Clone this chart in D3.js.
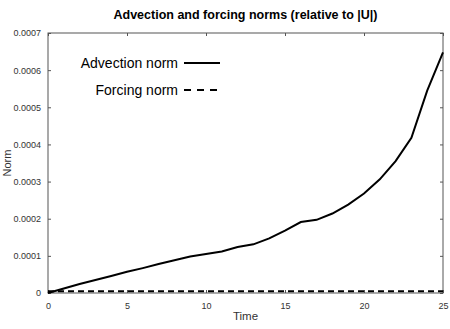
<!DOCTYPE html>
<html>
<head>
<meta charset="utf-8">
<script src="https://cdn.jsdelivr.net/npm/d3@7"></script>
<style>
  body { margin: 0; background: #fff; }
  svg { font-family: "Liberation Sans", Arial, sans-serif; }
</style>
</head>
<body>
<svg width="450" height="329"></svg>
<script>
const svg = d3.select("svg");

// data
const time = d3.range(0, 26);
const advection = [0, 0.000012, 0.000024, 0.000035, 0.000046, 0.000057, 0.000067, 0.000078,
  0.000088, 0.000098, 0.000105, 0.000112, 0.000124, 0.000131, 0.000147, 0.000168,
  0.000191, 0.000197, 0.000214, 0.000238, 0.000268, 0.000306, 0.000355, 0.000418,
  0.000545, 0.000648];
const forcing = time.map(() => 0.000005);
const xTicks = [0, 5, 10, 15, 20, 25];
const yTicks = [0, 0.0001, 0.0002, 0.0003, 0.0004, 0.0005, 0.0006, 0.0007];
const seriesNames = ["Advection norm", "Forcing norm"];

const margin = { left: 48, right: 7, top: 33, bottom: 36 };
const width = +svg.attr("width");
const height = +svg.attr("height");

const x = d3.scaleLinear().domain([0, 25]).range([margin.left, width - margin.right]);
const y = d3.scaleLinear().domain([0, 0.0007]).range([height - margin.bottom, margin.top]);

const axisColor = "#555";
const tickFmt = d => d === 0 ? "0" : d3.format(".4f")(d);

// frame
svg.append("rect")
  .attr("x", x(0)).attr("y", y(0.0007))
  .attr("width", x(25) - x(0)).attr("height", y(0) - y(0.0007))
  .attr("fill", "none").attr("stroke", axisColor).attr("stroke-width", 1);

const styleAxis = g => {
  g.select(".domain").remove();
  g.selectAll(".tick line").attr("stroke", axisColor);
  g.selectAll(".tick text").attr("fill", "#333").attr("font-size", 9);
};

svg.append("g")
  .attr("transform", `translate(0,${y(0)})`)
  .call(d3.axisBottom(x).tickValues(xTicks).tickSizeInner(-3).tickSizeOuter(0).tickPadding(10).tickFormat(d3.format("d")))
  .call(styleAxis);
svg.append("g")
  .attr("transform", `translate(0,${y(0.0007)})`)
  .call(d3.axisTop(x).tickValues(xTicks).tickSizeInner(-3).tickSizeOuter(0).tickFormat(""))
  .call(styleAxis);
svg.append("g")
  .attr("transform", `translate(${x(0)},0)`)
  .call(d3.axisLeft(y).tickValues(yTicks).tickSizeInner(-3).tickSizeOuter(0).tickPadding(7).tickFormat(tickFmt))
  .call(styleAxis);
svg.append("g")
  .attr("transform", `translate(${x(25)},0)`)
  .call(d3.axisRight(y).tickValues(yTicks).tickSizeInner(-3).tickSizeOuter(0).tickFormat(""))
  .call(styleAxis);

// lines
const line = vals => d3.line().x((d, i) => x(time[i])).y(d => y(d))(vals);

svg.append("path")
  .attr("d", line(forcing))
  .attr("fill", "none").attr("stroke", "#000").attr("stroke-width", 2)
  .attr("stroke-dasharray", "6,4");

svg.append("path")
  .attr("d", line(advection))
  .attr("fill", "none").attr("stroke", "#000").attr("stroke-width", 2);

// legend
const legend = svg.append("g");
seriesNames.forEach((name, i) => {
  const ly = 63 + i * 27;
  legend.append("text")
    .attr("x", 178).attr("y", ly + 5)
    .attr("text-anchor", "end").attr("font-size", 14).attr("fill", "#000")
    .text(name);
  legend.append("line")
    .attr("x1", 184).attr("x2", 220).attr("y1", ly).attr("y2", ly)
    .attr("stroke", "#000").attr("stroke-width", 2)
    .attr("stroke-dasharray", i === 1 ? "7,6" : null);
});

// titles
svg.append("text")
  .attr("x", (x(0) + x(25)) / 2).attr("y", 19)
  .attr("text-anchor", "middle").attr("font-size", 12.5).attr("font-weight", "bold")
  .text("Advection and forcing norms (relative to |U|)");

svg.append("text")
  .attr("x", (x(0) + x(25)) / 2).attr("y", 320)
  .attr("text-anchor", "middle").attr("font-size", 11.5).attr("fill", "#333")
  .text("Time");

svg.append("text")
  .attr("transform", `translate(11,${(y(0) + y(0.0007)) / 2}) rotate(-90)`)
  .attr("text-anchor", "middle").attr("font-size", 11).attr("fill", "#333")
  .text("Norm");
</script>
</body>
</html>
